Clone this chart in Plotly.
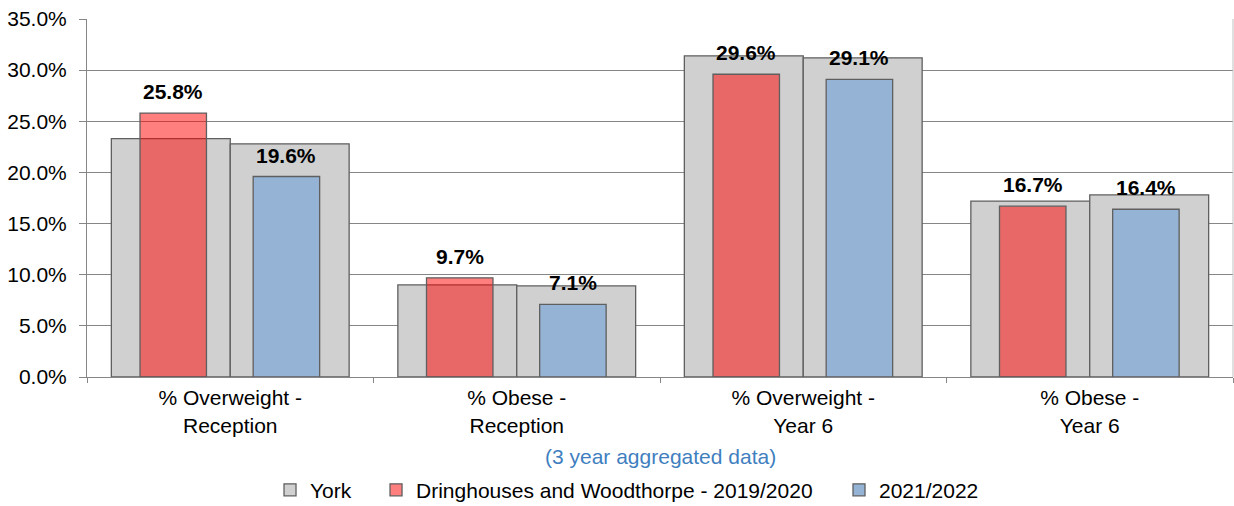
import plotly.graph_objects as go

# Child weight measurements (NCMP), 3 year aggregated data
categories = ["% Overweight -<br>Reception", "% Obese -<br>Reception",
              "% Overweight -<br>Year 6", "% Obese -<br>Year 6"]
york_2019_2020 = [23.3, 9.0, 31.4, 17.2]
york_2021_2022 = [22.8, 8.9, 31.2, 17.8]
ward_2019_2020 = [25.8, 9.7, 29.6, 16.7]
ward_2021_2022 = [19.6, 7.1, 29.1, 16.4]
y_ticks = [0, 5, 10, 15, 20, 25, 30, 35]

FONT = "Arial, Liberation Sans, sans-serif"
FS = 21
OUTLINE = "#5f5f5f"
GRID = "#868686"

# bar geometry in category units
WIDE = 0.415
NARROW = 0.232
RED_OFF = -0.315
BLUE_OFF = 0.080

fig = go.Figure()

fig.add_trace(go.Bar(
    x=categories, y=york_2019_2020, name="York", legendgroup="york",
    legend="legend", width=WIDE, offset=-WIDE,
    marker=dict(color="#d0d0d0", line=dict(color=OUTLINE, width=1.3)),
))
fig.add_trace(go.Bar(
    x=categories, y=york_2021_2022, name="York", legendgroup="york",
    showlegend=False, width=WIDE, offset=0,
    marker=dict(color="#d0d0d0", line=dict(color=OUTLINE, width=1.3)),
))
fig.add_trace(go.Bar(
    x=categories, y=ward_2019_2020, name="Dringhouses and Woodthorpe - 2019/2020",
    legend="legend2", width=NARROW, offset=RED_OFF,
    marker=dict(color="rgba(255,0,0,0.5)", line=dict(color=OUTLINE, width=1.3)),
))
fig.add_trace(go.Bar(
    x=categories, y=ward_2021_2022, name="2021/2022",
    legend="legend3", width=NARROW, offset=BLUE_OFF,
    marker=dict(color="#95b3d5", line=dict(color=OUTLINE, width=1.3)),
))

# value labels above the ward bars
annotations = []
for series, off in ((ward_2019_2020, RED_OFF), (ward_2021_2022, BLUE_OFF)):
    for i, v in enumerate(series):
        annotations.append(dict(
            x=i + off + NARROW / 2, y=v, xref="x", yref="y",
            text=f"<b>{v:.1f}%</b>", showarrow=False,
            yanchor="bottom", yshift=8,
            font=dict(family=FONT, size=FS, color="#000000"),
        ))

annotations.append(dict(
    x=0.5, y=-0.221, xref="paper", yref="paper",
    text="(3 year aggregated data)", showarrow=False,
    xanchor="center", yanchor="middle",
    font=dict(family=FONT, size=FS, color="#3f7fc0"),
))


def legend_box(x):
    return dict(orientation="h", x=x, xanchor="left", y=-0.316,
                yanchor="middle", font=dict(family=FONT, size=FS),
                bgcolor="rgba(0,0,0,0)")


fig.update_layout(
    width=1234, height=506,
    margin=dict(l=87, r=1, t=19, b=129, autoexpand=False),
    barmode="overlay",
    paper_bgcolor="white", plot_bgcolor="white",
    font=dict(family=FONT, size=FS, color="#000000"),
    showlegend=True,
    legend=legend_box(0.1597),
    legend2=legend_box(0.2522),
    legend3=legend_box(0.6562),
    annotations=annotations,
    shapes=[dict(type="line", xref="paper", yref="paper",
                 x0=1, x1=1, y0=0, y1=1,
                 line=dict(color="#c0c0c0", width=1))],
)

fig.update_xaxes(
    type="category", tickson="boundaries", ticks="outside", ticklen=5,
    tickcolor=GRID, showline=True, linecolor=GRID, linewidth=1,
    showgrid=False, tickfont=dict(family=FONT, size=FS),
    ticklabelstandoff=2, range=[-0.5, 3.5],
)
fig.update_yaxes(
    range=[0, 35], tickvals=y_ticks,
    ticktext=[f"{t:.1f}%" for t in y_ticks],
    showgrid=True, gridcolor=GRID, gridwidth=1,
    showline=True, linecolor=GRID, linewidth=1,
    ticks="outside", ticklen=7, tickcolor=GRID,
    ticklabelstandoff=8,
    tickfont=dict(family=FONT, size=FS), zeroline=False,
)

fig.write_html("out.html")
